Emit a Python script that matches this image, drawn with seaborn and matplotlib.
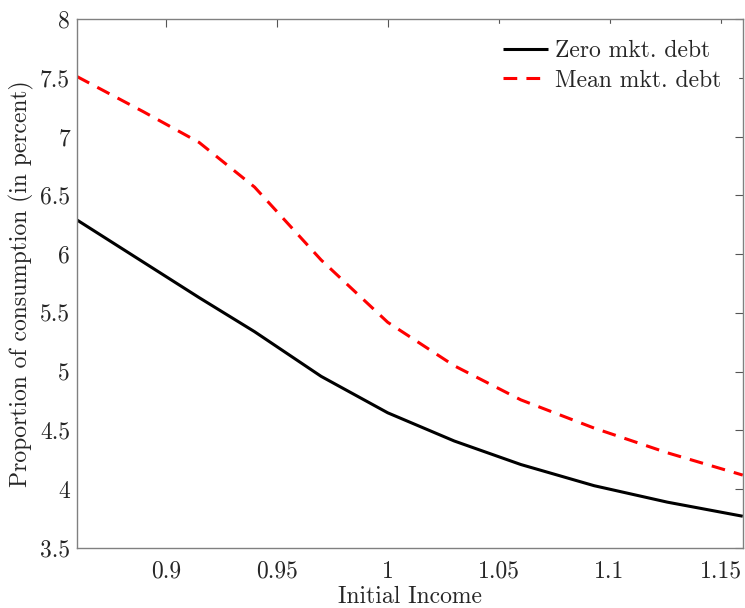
import numpy as np
import pandas as pd
import matplotlib
matplotlib.use("Agg")
import matplotlib.pyplot as plt
import seaborn as sns
from matplotlib.ticker import FixedLocator, FuncFormatter

income = [0.86, 0.89, 0.915, 0.94, 0.97, 1.0, 1.03, 1.06, 1.093, 1.126, 1.16]
zero_debt = [6.29, 5.93, 5.63, 5.34, 4.96, 4.65, 4.41, 4.21, 4.03, 3.89, 3.77]
mean_debt = [7.51, 7.21, 6.95, 6.57, 5.95, 5.42, 5.05, 4.76, 4.52, 4.31, 4.12]
series_names = ["Zero mkt. debt", "Mean mkt. debt"]
xticks = [0.9, 0.95, 1.0, 1.05, 1.1, 1.15]
yticks = [3.5, 4, 4.5, 5, 5.5, 6, 6.5, 7, 7.5, 8]

sns.set_theme(style="white")
plt.rcParams['font.family'] = ['cmr10', 'DejaVu Serif']
plt.rcParams['mathtext.fontset'] = 'cm'
plt.rcParams['axes.formatter.use_mathtext'] = True

df = pd.DataFrame({
    "income": income * 2,
    "value": zero_debt + mean_debt,
    "series": [series_names[0]] * len(income) + [series_names[1]] * len(income),
})

fig = plt.figure(figsize=(7.45, 6.08), dpi=100)
ax = fig.add_axes([0.1034, 0.0987, 0.8936, 0.8701])

sns.lineplot(data=df, x="income", y="value", hue="series", style="series",
             palette=["black", "#ff0000"], dashes=[(1, 0), (4.5, 3.0)],
             linewidth=2.2, ax=ax, legend=True)

ax.set_xlim(0.86, 1.16)
ax.set_ylim(3.5, 8)
ax.xaxis.set_major_locator(FixedLocator(xticks))
ax.yaxis.set_major_locator(FixedLocator(yticks))
fmt = FuncFormatter(lambda v, p: "%g" % v)
ax.xaxis.set_major_formatter(fmt)
ax.yaxis.set_major_formatter(fmt)
ax.tick_params(direction="in", length=6, width=0.8, color="#555555",
               labelsize=17, top=True, right=True, labelcolor="#262626")
ax.tick_params(axis="x", pad=9)
ax.tick_params(axis="y", pad=5)
for s in ax.spines.values():
    s.set_color("#808080")
    s.set_linewidth(1.0)
    s.set_visible(True)

ax.set_xlabel("Initial Income", fontsize=17, color="#262626", labelpad=2)
ax.set_ylabel("Proportion of consumption (in percent)", fontsize=17,
              color="#262626", labelpad=4)

leg = ax.legend(loc="upper right", frameon=True, fontsize=17,
                handlelength=1.9, borderaxespad=0.5, borderpad=0.4,
                handletextpad=0.3, labelspacing=0.3)
leg.get_frame().set_edgecolor("white")
leg.get_frame().set_facecolor("white")
leg.get_frame().set_alpha(1.0)
leg.get_frame().set_boxstyle("square")

fig.savefig("out.png", dpi=100)
